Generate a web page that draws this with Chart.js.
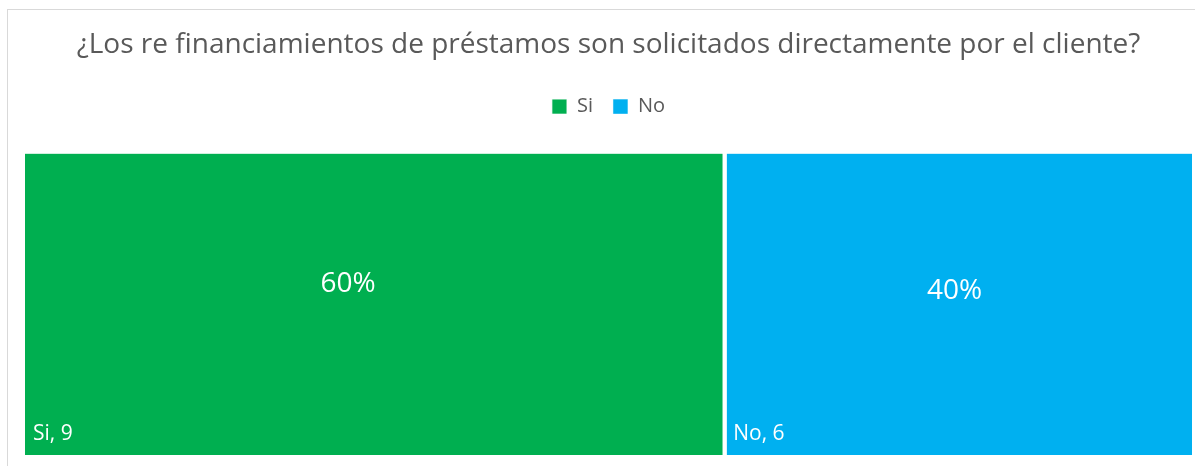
<!DOCTYPE html>
<html>
<head>
<meta charset="utf-8">
<script src="https://cdn.jsdelivr.net/npm/chart.js@4.4.1/dist/chart.umd.min.js"></script>
<style>
  html, body { margin: 0; padding: 0; background: #ffffff; }
  #wrap { width: 1195px; height: 466px; position: relative; }
</style>
</head>
<body>
<div id="wrap"><canvas id="c" width="1195" height="466"></canvas></div>
<script>
const titleText = '¿Los re financiamientos de préstamos son solicitados directamente por el cliente?';
const categories = ['Si', 'No'];
const counts = [9, 6];
const colors = ['#00AF50', '#00B0F0'];

const FONT = '"Open Sans", "Liberation Sans", sans-serif';
const total = counts.reduce((a, b) => a + b, 0);

const borderPlugin = {
  id: 'outerBorder',
  beforeDraw(chart) {
    const ctx = chart.ctx;
    ctx.save();
    ctx.strokeStyle = '#d9d9d9';
    ctx.lineWidth = 1;
    ctx.strokeRect(7.5, 9.5, chart.width + 20, chart.height + 20);
    ctx.restore();
  }
};

const legendGapPlugin = {
  id: 'legendGap',
  afterInit(chart) {
    const lg = chart.legend;
    if (lg && !lg._gapPatched) {
      const orig = lg.fit;
      lg.fit = function () {
        orig.call(this);
        this.height += 27;
        this.minSize && (this.minSize.height = this.height);
      };
      lg._gapPatched = true;
    }
  }
};

const labelPlugin = {
  id: 'tileLabels',
  afterDatasetsDraw(chart) {
    const ctx = chart.ctx;
    ctx.save();
    chart.data.datasets.forEach((ds, i) => {
      const meta = chart.getDatasetMeta(i);
      meta.data.forEach((bar, j) => {
        const v = ds.data[j];
        const left = Math.min(bar.x, bar.base);
        const right = Math.max(bar.x, bar.base);
        const top = bar.y - bar.height / 2;
        const bottom = bar.y + bar.height / 2;
        ctx.fillStyle = '#ffffff';
        ctx.font = '28px ' + FONT;
        ctx.textAlign = 'center';
        ctx.textBaseline = 'middle';
        const pct = Math.round(v / total * 100) + '%';
        ctx.fillText(pct, (left + right) / 2 - (i === 0 ? 27 : 4), top + (i === 0 ? 130 : 137));
        ctx.font = '21px ' + FONT;
        ctx.textAlign = 'left';
        ctx.textBaseline = 'alphabetic';
        ctx.fillText(ds.label + ', ' + v, left + 8, bottom - 15);
      });
    });
    ctx.restore();
  }
};

new Chart(document.getElementById('c'), {
  type: 'bar',
  data: {
    labels: [''],
    datasets: categories.map((name, i) => ({
      label: name,
      data: [counts[i]],
      backgroundColor: colors[i],
      borderColor: '#ffffff',
      borderWidth: i === 0 ? { right: 3, left: 0, top: 0, bottom: 0 } : { left: 2, right: 0, top: 0, bottom: 0 },
      borderSkipped: false,
      barPercentage: 1,
      categoryPercentage: 1
    }))
  },
  options: {
    indexAxis: 'y',
    responsive: false,
    animation: false,
    devicePixelRatio: 1,
    layout: { padding: { left: 25, right: 3, top: 0, bottom: 11 } },
    scales: {
      x: { display: false, stacked: true, min: 0, max: total },
      y: { display: false, stacked: true }
    },
    plugins: {
      title: {
        display: true,
        text: titleText,
        color: '#595959',
        font: { family: FONT, size: 28, weight: 'normal' },
        padding: { top: 28, bottom: 15 }
      },
      legend: {
        display: true,
        labels: {
          color: '#595959',
          font: { family: FONT, size: 20 },
          boxWidth: 15,
          boxHeight: 15,
          padding: 20
        }
      },
      tooltip: { enabled: false }
    }
  },
  plugins: [borderPlugin, legendGapPlugin, labelPlugin]
});
</script>
</body>
</html>
